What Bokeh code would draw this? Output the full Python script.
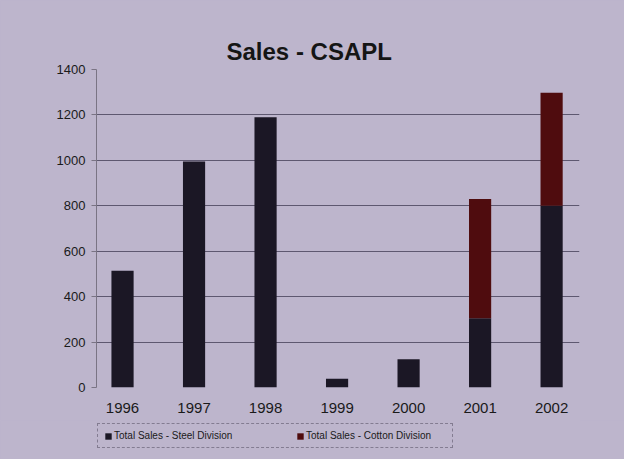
from bokeh.plotting import figure
from bokeh.layouts import column
from bokeh.models import Range1d, FixedTicker, Legend, LegendItem
from bokeh.embed import file_html
from bokeh.resources import INLINE

years = [1996, 1997, 1998, 1999, 2000, 2001, 2002]
steel = [514, 995, 1190, 38, 124, 305, 800]
cotton = [0, 0, 0, 0, 0, 525, 498]
y_ticks = [0, 200, 400, 600, 800, 1000, 1200, 1400]
series_names = ["Total Sales - Steel Division", "Total Sales - Cotton Division"]

BG = "#bdb5cc"
FONT = "Liberation Sans"
COLORS = ["#1b1725", "#4f0c0e"]

p = figure(width=624, height=420, output_backend="svg", toolbar_location=None,
           x_range=Range1d(1995.636, 2002.39), y_range=Range1d(0, 1400),
           min_border_left=96, min_border_right=45, min_border_top=69, min_border_bottom=33)
p.background_fill_color = None
p.border_fill_color = BG
p.outline_line_color = None

p.title.text = "Sales - CSAPL"
p.title.text_font = FONT
p.title.text_font_size = "24px"
p.title.text_font_style = "bold"
p.title.text_color = "#151515"
p.title.align = "left"
p.title.offset = 130

data = {"year": years, "steel": steel, "cotton": cotton}
rs = p.vbar_stack(["steel", "cotton"], x="year", width=0.31, source=data,
                  color=COLORS, line_color=None)

# axes
p.yaxis.ticker = FixedTicker(ticks=y_ticks)
p.yaxis.minor_tick_line_color = None
p.yaxis.major_tick_out = 5
p.yaxis.major_tick_in = 0
p.yaxis.axis_line_color = "#7a7484"
p.yaxis.major_tick_line_color = "#7a7484"
p.yaxis.major_label_text_font = FONT
p.yaxis.major_label_text_font_size = "13px"
p.yaxis.major_label_text_color = "#1a1a1a"
p.yaxis.major_label_standoff = 6

p.xaxis.ticker = FixedTicker(ticks=years)
p.xaxis.major_label_overrides = {y: str(y) for y in years}
p.xaxis.minor_tick_line_color = None
p.xaxis.major_tick_line_color = None
p.xaxis.axis_line_color = None
p.xaxis.major_label_text_font = FONT
p.xaxis.major_label_text_font_size = "15px"
p.xaxis.major_label_text_color = "#1a1a1a"
p.xaxis.major_label_standoff = 9

p.xgrid.grid_line_color = None
p.ygrid.grid_line_color = "#5e5870"
p.ygrid.grid_line_width = 1

# legend strip below the chart
p2 = figure(width=624, height=39, output_backend="svg", toolbar_location=None,
            x_axis_location=None, y_axis_location=None,
            x_range=Range1d(1995.636, 2002.39), y_range=Range1d(0, 1400),
            min_border_left=96, min_border_right=45, min_border_top=0, min_border_bottom=0)
p2.center = []
p2.background_fill_color = None
p2.border_fill_color = BG
p2.outline_line_color = None
lrs = p2.vbar_stack(["steel", "cotton"], x="year", width=0.31, source=data,
                    color=COLORS, line_color=None)
for r in lrs:
    r.visible = False

legend = Legend(items=[LegendItem(label=series_names[0], renderers=[lrs[0]]),
                       LegendItem(label=series_names[1], renderers=[lrs[1]])],
                orientation="horizontal", location=(1, 11),
                label_text_font=FONT, label_text_font_size="10px", label_text_color="#1a1a1a",
                glyph_width=8, glyph_height=8, label_standoff=2, spacing=42,
                label_width=140, label_height=10,
                padding=6, margin=0,
                inactive_fill_alpha=0.0,
                border_line_color="#4a4458", border_line_dash="2 2", border_line_width=1,
                background_fill_color=BG, background_fill_alpha=1.0)
p2.add_layout(legend, "center")

layout = column(p, p2, spacing=0, styles={"background-color": BG})
open("out.html", "w").write(file_html(layout, INLINE))
